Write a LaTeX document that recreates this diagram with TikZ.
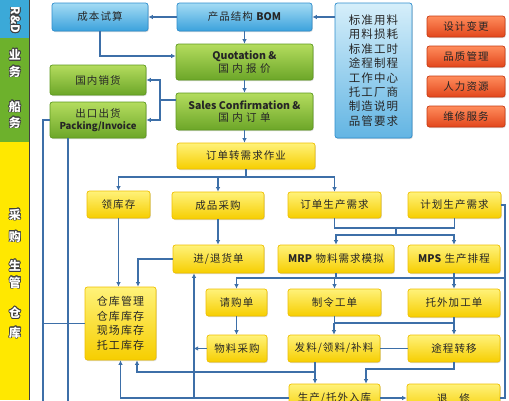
\documentclass[tikz,border=0pt]{standalone}
\usepackage{fontspec}
\setmainfont{Noto Sans CJK SC}
\newfontfamily\cj{Noto Sans CJK SC}[LetterSpace=10]
\usepackage{contour}
\contourlength{0.7pt}
\usetikzlibrary{arrows.meta,shadows,calc}
\definecolor{lc}{HTML}{3D6FA8}
\definecolor{ytop}{HTML}{FFF27A}
\definecolor{ybot}{HTML}{F6CE00}
\definecolor{ydraw}{HTML}{EFC000}
\definecolor{gtop}{HTML}{B4DC5E}
\definecolor{gbot}{HTML}{6CA628}
\definecolor{gdraw}{HTML}{5E9A1E}
\definecolor{btop}{HTML}{A4DBF4}
\definecolor{bbot}{HTML}{3BA2DC}
\definecolor{bdraw}{HTML}{2F8ECE}
\definecolor{otop}{HTML}{FF8D5C}
\definecolor{obot}{HTML}{E2461C}
\definecolor{odraw}{HTML}{C93A12}
\definecolor{bandb}{HTML}{3BA9D8}
\definecolor{bandg}{HTML}{6DB12C}
\definecolor{bandy}{HTML}{FFE800}
\tikzset{
  conn/.style={draw=lc, line width=1.1pt},
  arr/.style={conn, -{Latex[length=4.5pt,width=4.5pt]}},
  base/.style={rounded corners=2.5pt, inner sep=0pt, align=center, line width=0.7pt,
    font=\cj\fontsize{10.5}{12.5}\selectfont, text=black!85,
    drop shadow={shadow xshift=0.8pt,shadow yshift=-1pt,opacity=0.3}},
  ybox/.style={base, draw=ydraw, top color=ytop, bottom color=ybot},
  gbox/.style={base, draw=gdraw, top color=gtop, bottom color=gbot},
  bbox/.style={base, draw=bdraw, top color=btop, bottom color=bbot},
  obox/.style={base, draw=odraw, top color=otop, bottom color=obot},
  lat/.style={font=\bfseries\fontsize{10.5}{12.5}\selectfont},
  bandtxt/.style={font=\bfseries\fontsize{12}{14}\selectfont, text=white},
}
\newcommand{\bt}[1]{\contour{black!75}{#1}}
\begin{document}
\begin{tikzpicture}[x=1pt,y=-1pt]
\useasboundingbox (0,0) rectangle (509,400);
\clip (0,0) rectangle (509,400);
\fill[white] (0,0) rectangle (509,400);
% left band
\fill[bandb] (0,0) rectangle (29,38);
\fill[bandg] (0,38) rectangle (29,142);
\fill[bandy] (0,142) rectangle (29,400);
\draw[black!75, line width=1.6pt] (29.5,0) -- (29.5,400);
\node[bandtxt, rotate=-90] (tRD) at (15,20) {\bt{R\&D}};
\node[bandtxt] (t1) at (15,55) {\bt{业}};
\node[bandtxt] (t2) at (15,72) {\bt{务}};
\node[bandtxt] (t3) at (15,107) {\bt{船}};
\node[bandtxt] (t4) at (15,123) {\bt{务}};
\node[bandtxt] (t5) at (15,215) {\bt{采}};
\node[bandtxt] (t6) at (15,237) {\bt{购}};
\node[bandtxt] (t7) at (15,266) {\bt{生}};
\node[bandtxt] (t8) at (15,283) {\bt{管}};
\node[bandtxt] (t9) at (15,313) {\bt{仓}};
\node[bandtxt] (t10) at (15,333) {\bt{库}};
% blue
\node[bbox, minimum width=96pt, minimum height=28pt] (cost) at (100,17) {成本试算};
\node[bbox, minimum width=135pt, minimum height=28pt] (bom) at (244.5,17) {产品结构 {\normalfont\bfseries BOM}};
\node[base, draw=bdraw, top color=btop!45, bottom color=bbot!80, minimum width=77pt, minimum height=135pt,
  font=\cj\fontsize{11.5}{14.4}\selectfont] (list) at (373.5,70.5)
  {标准用料\\用料损耗\\标准工时\\途程制程\\工作中心\\托工厂商\\制造说明\\品管要求};
% orange
\node[obox, minimum width=78pt, minimum height=21pt] (o1) at (466,26.5) {设计变更};
\node[obox, minimum width=78pt, minimum height=21pt] (o2) at (466,56.5) {品质管理};
\node[obox, minimum width=78pt, minimum height=21pt] (o3) at (466,86.5) {人力资源};
\node[obox, minimum width=78pt, minimum height=21pt] (o4) at (466,116.5) {维修服务};
% green
\node[gbox, minimum width=137pt, minimum height=36pt] (quot) at (244.5,62)
  {{\normalfont\bfseries Quotation \&}\\国 内 报 价};
\node[gbox, minimum width=137pt, minimum height=37pt] (sales) at (244.5,111.5)
  {{\normalfont\bfseries Sales Confirmation \&}\\国 内 订 单};
\node[gbox, minimum width=96pt, minimum height=30pt] (dom) at (98,80) {国内销货};
\node[gbox, minimum width=96pt, minimum height=36pt] (exp) at (98,120)
  {出口出货\\{\normalfont\bfseries\fontsize{9.5}{11}\selectfont Packing/Invoice}};
% yellow
\node[ybox, minimum width=138pt, minimum height=26pt] (conv) at (246,156) {订单转需求作业};
\node[ybox, minimum width=63pt, minimum height=27pt] (ling) at (118.5,204.5) {领库存};
\node[ybox, minimum width=92pt, minimum height=27pt] (cppur) at (218,205.5) {成品采购};
\node[ybox, minimum width=93pt, minimum height=26pt] (ordp) at (334.5,205) {订单生产需求};
\node[ybox, minimum width=93pt, minimum height=26pt] (planp) at (454.5,205) {计划生产需求};
\node[ybox, minimum width=91pt, minimum height=28pt] (jt) at (218.5,259) {进/退货单};
\node[ybox, minimum width=116pt, minimum height=28pt] (mrp) at (336,259) {{\normalfont\bfseries MRP} 物料需求模拟};
\node[ybox, minimum width=92pt, minimum height=28pt] (mps) at (454,259) {{\normalfont\bfseries MPS} 生产排程};
\node[ybox, minimum width=71pt, minimum height=73pt, font=\cj\fontsize{11}{14.5}\selectfont] (wh) at (120.5,323.5)
  {仓库管理\\仓库库存\\现场库存\\托工库存};
\node[ybox, minimum width=61pt, minimum height=27pt] (qg) at (236.5,302.5) {请购单};
\node[ybox, minimum width=93pt, minimum height=27pt] (zl) at (334.5,302.5) {制令工单};
\node[ybox, minimum width=92pt, minimum height=28pt] (tw) at (454,303) {托外加工单};
\node[ybox, minimum width=60pt, minimum height=27pt] (wl) at (237,348.5) {物料采购};
\node[ybox, minimum width=92pt, minimum height=27pt] (fl) at (334,348.5) {发料/领料/补料};
\node[ybox, minimum width=92pt, minimum height=27pt] (tc) at (454,348.5) {途程转移};
\node[ybox, minimum width=91pt, minimum height=28pt] (sc) at (334.5,398) {生产/托外入库};
\node[ybox, minimum width=93pt, minimum height=28pt] (tx) at (453.5,398) {退\hspace{1.1em}修};
% coordinates
\coordinate (j1) at (160,100);
\coordinate (b1) at (246,177);
\coordinate (m1) at (396,228);
\coordinate (m2) at (396,235);
\coordinate (rc) at (505,398);
\coordinate (h2) at (505,278);
\coordinate (h3) at (0,323);
\coordinate (t1c) at (366,369);
\coordinate (t2c) at (315,372);
\coordinate (L) at (43,0);
\coordinate (B) at (0,405);
% connectors
\draw[arr] (bom.west) -- (cost.east);
\draw[arr] (list.west |- bom.west) -- (bom.east);
\draw[arr] (cost.south) |- ([yshift=6pt]quot.west);
\draw[arr] (bom.south) -- (quot.north);
\draw[arr] (quot.south) -- (sales.north);
\draw[conn] ([yshift=11.5pt]sales.west) -- (j1);
\draw[arr] (j1) |- (dom.east);
\draw[arr] (j1) |- (exp.east);
\draw[arr] (sales.south) -- (sales.south |- conv.north);
\draw[conn] (conv.south) -- (b1);
\draw[arr] (b1) -| (ling.north);
\draw[arr] (b1) -| (ordp.north);
\draw[arr] (cppur.north |- b1) -- (cppur.north);
\draw[arr] (cppur.south) -- (cppur.south |- jt.north);
\draw[conn] (ordp.south) |- (planp.south |- m1) -- (planp.south);
\draw[conn] (m1) -- (m2);
\draw[arr] (m2) -| (mrp.north);
\draw[arr] (m2) -| (mps.north);
\draw[conn] (planp.east) -| (rc) -- (tx.east);
\draw[arr] (h2) -| (qg.north);
\draw[arr] (zl.north |- h2) -- (zl.north);
\draw[arr] (tw.north |- h2) -- (tw.north);
\draw[conn] (mrp.south) -- (mrp.south |- h2);
\draw[conn] (mps.south) -- (mps.south |- h2);
\draw[arr] (qg.south) -- (qg.south |- wl.north);
\draw[conn] (zl.south) -- (zl.south |- h3) -- (tw.south |- h3) -- (tw.south);
\draw[arr] (fl.north |- h3) -- (fl.north);
\draw[arr] (tc.north |- h3) -- (tc.north);
\draw[conn] (fl.east) -- (tc.west);
\draw[arr] (tc.south) |- (t1c) -- (t1c |- sc.north);
\draw[arr] ([xshift=-19pt]fl.south) -- ([xshift=-19pt]fl.south |- sc.north);
\draw[arr] (t2c) -| ([xshift=16.5pt]wh.south);
\draw[arr] (sc.west) -| (wh.south);
\draw[arr] ([xshift=-24.5pt]jt.south |- sc.west) -- ([xshift=-24.5pt]jt.south);
\draw[arr] (wl.west) -- ([xshift=-13pt]wl.west);
\draw[arr] (jt.west) -| ([xshift=17.5pt]wh.north);
\draw[arr] (ling.south) -- (ling.south |- wh.north);
\draw[conn] (exp.west) -| (L |- B);
\draw[conn] (wh.west) -- (wh.west -| L);
\draw[conn] ([xshift=-30pt]exp.south) -- ([xshift=-30pt]exp.south |- B);
\draw[arr] (sc.east) -- (tx.west);
\end{tikzpicture}
\end{document}
